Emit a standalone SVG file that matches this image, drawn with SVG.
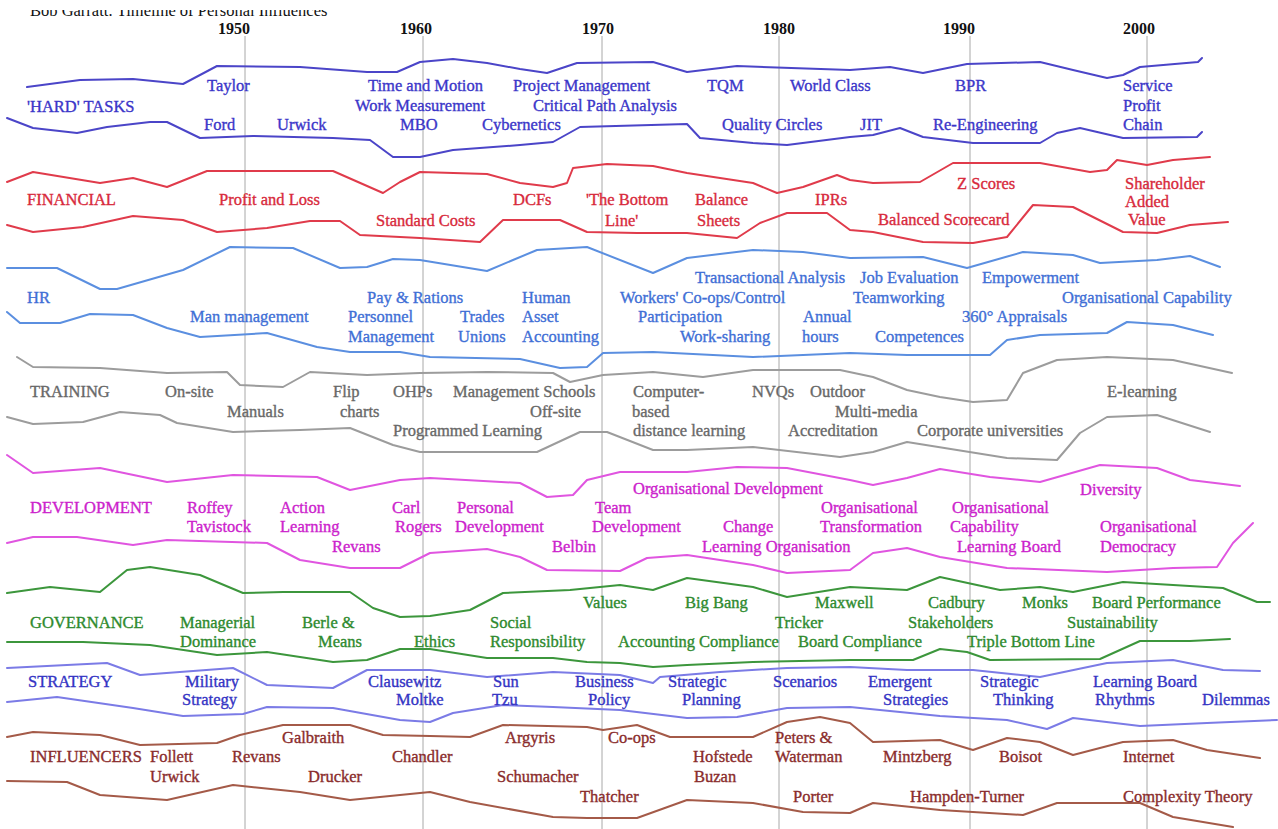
<svg xmlns="http://www.w3.org/2000/svg" width="1278" height="829" viewBox="0 0 1278 829">
<style>
text{font-family:"Liberation Serif","Times New Roman",serif;font-size:16.5px;stroke-width:0.35px}
.yr{font-weight:bold;font-size:16px;fill:#111}
.grid{stroke:#a8a8a8;stroke-width:1;fill:none}
.ln{fill:none;stroke-width:2;stroke-linejoin:round;stroke-linecap:round}
.hard polyline{stroke:#4b45c8}.hard text{fill:#3b36c9;stroke:#3b36c9}
.fin polyline{stroke:#e03b4b}.fin text{fill:#d82a3c;stroke:#d82a3c}
.hr polyline{stroke:#5b8fe0}.hr text{fill:#3f6fd6;stroke:#3f6fd6}
.tr polyline{stroke:#9c9c9c}.tr text{fill:#686868;stroke:#686868}
.dev polyline{stroke:#e055e0}.dev text{fill:#cc22cc;stroke:#cc22cc}
.gov polyline{stroke:#3c963c}.gov text{fill:#2e8a2e;stroke:#2e8a2e}
.str polyline{stroke:#7b7be6}.str text{fill:#3434c4;stroke:#3434c4}
.inf polyline{stroke:#a45a48}.inf text{fill:#8a2c2c;stroke:#8a2c2c}
</style>
<rect width="1278" height="829" fill="#fff"/>
<g id="title">
<text x="30" y="16" font-size="16" fill="#111">Bob Garratt:  Timeline of Personal Influences</text>
<rect x="0" y="0" width="1278" height="10" fill="#fff"/>
</g>
<g id="years">
<text class="yr" x="218" y="34">1950</text>
<text class="yr" x="400" y="34">1960</text>
<text class="yr" x="582" y="34">1970</text>
<text class="yr" x="763" y="34">1980</text>
<text class="yr" x="943" y="34">1990</text>
<text class="yr" x="1123" y="34">2000</text>
</g>
<g id="gridlines" class="grid">
<line x1="245" y1="36" x2="245" y2="829"/>
<line x1="423" y1="36" x2="423" y2="829"/>
<line x1="602" y1="36" x2="602" y2="829"/>
<line x1="779" y1="36" x2="779" y2="829"/>
<line x1="970" y1="36" x2="970" y2="829"/>
<line x1="1147" y1="36" x2="1147" y2="829"/>
</g>
<g id="band-hard" class="hard">
<polyline class="ln" points="27,87 80,80 133,79 183,84 217,66 300,67 367,72 397,72 420,62 453,59 487,63 520,69 547,73 577,63 653,62 687,72 737,66 850,70 890,67 923,73 967,64 1040,62 1073,70 1107,78 1123,75 1140,67 1198,62 1202,58"/>
<polyline class="ln" points="7,118 33,128 77,133 107,127 150,122 167,122 200,138 253,136 333,138 370,140 393,157 420,157 453,150 520,145 553,142 580,127 687,124 700,138 753,143 787,145 850,137 873,135 900,128 923,137 973,143 1040,143 1057,133 1080,128 1123,138 1197,137 1202,132"/>
<text x="27" y="112">'HARD' TASKS</text>
<text x="207" y="91">Taylor</text>
<text x="204" y="130">Ford</text>
<text x="277" y="130">Urwick</text>
<text x="368" y="91">Time and Motion</text>
<text x="355" y="111">Work Measurement</text>
<text x="400" y="130">MBO</text>
<text x="513" y="91">Project Management</text>
<text x="533" y="111">Critical Path Analysis</text>
<text x="482" y="130">Cybernetics</text>
<text x="707" y="91">TQM</text>
<text x="790" y="91">World Class</text>
<text x="722" y="130">Quality Circles</text>
<text x="860" y="130">JIT</text>
<text x="955" y="91">BPR</text>
<text x="933" y="130">Re-Engineering</text>
<text x="1123" y="91">Service</text>
<text x="1123" y="111">Profit</text>
<text x="1123" y="130">Chain</text>
</g>
<g id="band-financial" class="fin">
<polyline class="ln" points="7,182 33,172 100,183 133,178 167,187 207,171 333,171 383,193 400,182 420,172 487,174 520,183 553,187 567,183 573,168 607,164 653,166 687,173 753,183 777,193 803,187 837,175 850,180 873,183 920,182 953,163 1040,163 1090,172 1107,170 1117,160 1147,165 1173,160 1210,157"/>
<polyline class="ln" points="7,225 33,232 83,227 133,216 183,220 217,232 267,228 310,221 340,221 360,235 420,238 480,242 503,220 560,220 587,232 637,233 687,233 737,238 760,223 787,213 827,213 850,230 873,232 923,242 973,243 1007,237 1033,205 1073,207 1123,232 1157,233 1190,225 1228,222"/>
<text x="27" y="205">FINANCIAL</text>
<text x="219" y="205">Profit and Loss</text>
<text x="376" y="226">Standard Costs</text>
<text x="513" y="205">DCFs</text>
<text x="586" y="205">'The Bottom</text>
<text x="605" y="226">Line'</text>
<text x="695" y="205">Balance</text>
<text x="697" y="226">Sheets</text>
<text x="815" y="205">IPRs</text>
<text x="957" y="189">Z Scores</text>
<text x="878" y="225">Balanced Scorecard</text>
<text x="1125" y="189">Shareholder</text>
<text x="1125" y="207">Added</text>
<text x="1128" y="225">Value</text>
</g>
<g id="band-hr" class="hr">
<polyline class="ln" points="7,268 57,268 100,289 117,289 183,270 230,247 293,248 340,268 367,267 393,259 420,260 487,271 513,260 537,250 587,247 653,273 687,258 753,250 803,252 850,258 923,257 967,268 1023,252 1073,255 1100,263 1157,260 1190,256 1220,267"/>
<polyline class="ln" points="7,312 20,323 60,323 90,314 133,315 167,328 200,337 267,333 317,347 350,352 400,352 430,357 520,359 560,368 587,367 603,353 653,352 753,357 850,353 907,355 990,355 1007,340 1040,335 1107,333 1127,322 1173,325 1213,335"/>
<text x="27" y="303">HR</text>
<text x="190" y="322">Man management</text>
<text x="367" y="303">Pay &amp; Rations</text>
<text x="348" y="322">Personnel</text>
<text x="348" y="342">Management</text>
<text x="460" y="322">Trades</text>
<text x="458" y="342">Unions</text>
<text x="522" y="303">Human</text>
<text x="522" y="322">Asset</text>
<text x="522" y="342">Accounting</text>
<text x="695" y="283">Transactional Analysis</text>
<text x="620" y="303">Workers' Co-ops/Control</text>
<text x="638" y="322">Participation</text>
<text x="680" y="342">Work-sharing</text>
<text x="803" y="322">Annual</text>
<text x="802" y="342">hours</text>
<text x="860" y="283">Job Evaluation</text>
<text x="853" y="303">Teamworking</text>
<text x="875" y="342">Competences</text>
<text x="982" y="283">Empowerment</text>
<text x="962" y="322">360° Appraisals</text>
<text x="1062" y="303">Organisational Capability</text>
</g>
<g id="band-training" class="tr">
<polyline class="ln" points="17,357 33,367 100,368 167,373 227,372 240,385 283,387 310,372 367,375 420,373 487,372 553,373 570,382 603,375 653,372 703,377 753,370 840,370 873,377 907,390 940,397 973,402 1007,400 1023,373 1057,360 1107,357 1173,360 1232,373"/>
<polyline class="ln" points="7,417 33,424 83,422 120,412 160,415 177,423 233,432 300,430 350,428 393,445 420,452 537,452 580,432 607,432 653,450 687,450 753,447 840,457 873,452 907,442 957,450 1007,458 1057,460 1080,433 1107,417 1157,415 1210,432"/>
<text x="30" y="397">TRAINING</text>
<text x="165" y="397">On-site</text>
<text x="227" y="417">Manuals</text>
<text x="333" y="397">Flip</text>
<text x="340" y="417">charts</text>
<text x="393" y="397">OHPs</text>
<text x="453" y="397">Management Schools</text>
<text x="530" y="417">Off-site</text>
<text x="393" y="436">Programmed Learning</text>
<text x="633" y="397">Computer-</text>
<text x="632" y="417">based</text>
<text x="633" y="436">distance learning</text>
<text x="752" y="397">NVQs</text>
<text x="810" y="397">Outdoor</text>
<text x="835" y="417">Multi-media</text>
<text x="788" y="436">Accreditation</text>
<text x="917" y="436">Corporate universities</text>
<text x="1107" y="397">E-learning</text>
</g>
<g id="band-development" class="dev">
<polyline class="ln" points="7,455 33,473 100,468 167,482 233,475 317,477 350,490 400,480 430,478 520,483 547,497 573,495 587,480 620,472 687,472 737,467 787,468 850,480 873,485 907,478 940,469 990,477 1040,482 1100,465 1157,468 1190,480 1240,486"/>
<polyline class="ln" points="7,543 33,537 77,537 133,545 167,540 267,543 300,560 350,568 400,568 430,553 487,549 520,557 547,570 620,571 647,558 687,555 753,565 787,573 850,570 873,553 907,548 940,557 1007,568 1107,572 1173,568 1217,567 1233,543 1253,523"/>
<text x="30" y="513">DEVELOPMENT</text>
<text x="187" y="513">Roffey</text>
<text x="187" y="532">Tavistock</text>
<text x="280" y="513">Action</text>
<text x="280" y="532">Learning</text>
<text x="332" y="552">Revans</text>
<text x="392" y="513">Carl</text>
<text x="395" y="532">Rogers</text>
<text x="457" y="513">Personal</text>
<text x="455" y="532">Development</text>
<text x="552" y="552">Belbin</text>
<text x="595" y="513">Team</text>
<text x="592" y="532">Development</text>
<text x="633" y="494">Organisational Development</text>
<text x="723" y="532">Change</text>
<text x="702" y="552">Learning Organisation</text>
<text x="821" y="513">Organisational</text>
<text x="820" y="532">Transformation</text>
<text x="952" y="513">Organisational</text>
<text x="950" y="532">Capability</text>
<text x="957" y="552">Learning Board</text>
<text x="1080" y="495">Diversity</text>
<text x="1100" y="532">Organisational</text>
<text x="1100" y="552">Democracy</text>
</g>
<g id="band-governance" class="gov">
<polyline class="ln" points="7,593 50,587 100,592 127,570 150,567 200,575 243,593 283,592 350,592 373,608 400,617 430,616 470,610 503,593 570,590 620,585 653,590 687,578 753,587 787,597 850,587 907,590 940,577 1000,590 1040,587 1073,592 1123,582 1223,588 1257,602 1270,602"/>
<polyline class="ln" points="7,642 83,642 150,645 217,655 267,652 333,662 367,660 400,649 430,649 487,658 553,658 587,662 620,663 653,667 687,665 753,662 850,660 913,660 940,649 967,652 990,660 1100,659 1140,641 1190,641 1230,639"/>
<text x="30" y="628">GOVERNANCE</text>
<text x="180" y="628">Managerial</text>
<text x="180" y="647">Dominance</text>
<text x="302" y="628">Berle &amp;</text>
<text x="318" y="647">Means</text>
<text x="414" y="647">Ethics</text>
<text x="490" y="628">Social</text>
<text x="490" y="647">Responsibility</text>
<text x="583" y="608">Values</text>
<text x="685" y="608">Big Bang</text>
<text x="815" y="608">Maxwell</text>
<text x="775" y="628">Tricker</text>
<text x="618" y="647">Accounting Compliance</text>
<text x="798" y="647">Board Compliance</text>
<text x="928" y="608">Cadbury</text>
<text x="908" y="628">Stakeholders</text>
<text x="1022" y="608">Monks</text>
<text x="1092" y="608">Board Performance</text>
<text x="1067" y="628">Sustainability</text>
<text x="967" y="647">Triple Bottom Line</text>
</g>
<g id="band-strategy" class="str">
<polyline class="ln" points="7,668 107,663 140,675 233,668 267,685 333,688 367,670 430,670 487,677 553,672 620,675 653,683 660,677 720,672 787,668 850,667 907,670 973,670 1040,677 1107,663 1173,660 1223,670 1260,671"/>
<polyline class="ln" points="7,702 57,697 133,708 183,716 243,714 267,707 333,708 400,720 430,722 453,713 503,705 553,707 620,710 687,718 737,717 787,708 850,707 940,716 1007,720 1047,729 1073,718 1140,726 1207,723 1277,720"/>
<text x="28" y="687">STRATEGY</text>
<text x="185" y="687">Military</text>
<text x="182" y="705">Strategy</text>
<text x="368" y="687">Clausewitz</text>
<text x="396" y="705">Moltke</text>
<text x="493" y="687">Sun</text>
<text x="492" y="705">Tzu</text>
<text x="575" y="687">Business</text>
<text x="588" y="705">Policy</text>
<text x="668" y="687">Strategic</text>
<text x="682" y="705">Planning</text>
<text x="773" y="687">Scenarios</text>
<text x="868" y="687">Emergent</text>
<text x="883" y="705">Strategies</text>
<text x="980" y="687">Strategic</text>
<text x="993" y="705">Thinking</text>
<text x="1093" y="687">Learning Board</text>
<text x="1095" y="705">Rhythms</text>
<text x="1202" y="705">Dilemmas</text>
</g>
<g id="band-influencers" class="inf">
<polyline class="ln" points="7,737 33,732 100,735 140,745 217,743 240,735 283,725 350,725 383,735 430,736 470,737 503,725 587,727 603,730 637,725 670,737 753,737 787,722 820,717 850,723 873,742 940,740 973,750 1007,738 1040,742 1073,755 1123,742 1173,740 1207,750 1260,758"/>
<polyline class="ln" points="7,781 67,782 100,795 167,800 233,785 300,792 350,800 430,792 470,802 553,817 587,818 637,818 687,800 753,803 803,812 850,813 873,803 940,810 1023,815 1057,803 1140,803 1173,817 1233,827"/>
<text x="30" y="762">INFLUENCERS</text>
<text x="150" y="762">Follett</text>
<text x="150" y="782">Urwick</text>
<text x="282" y="743">Galbraith</text>
<text x="232" y="762">Revans</text>
<text x="308" y="782">Drucker</text>
<text x="392" y="762">Chandler</text>
<text x="505" y="743">Argyris</text>
<text x="497" y="782">Schumacher</text>
<text x="608" y="743">Co-ops</text>
<text x="580" y="802">Thatcher</text>
<text x="693" y="762">Hofstede</text>
<text x="694" y="782">Buzan</text>
<text x="775" y="743">Peters &amp;</text>
<text x="775" y="762">Waterman</text>
<text x="793" y="802">Porter</text>
<text x="883" y="762">Mintzberg</text>
<text x="999" y="762">Boisot</text>
<text x="1123" y="762">Internet</text>
<text x="910" y="802">Hampden-Turner</text>
<text x="1123" y="802">Complexity Theory</text>
</g>
</svg>
